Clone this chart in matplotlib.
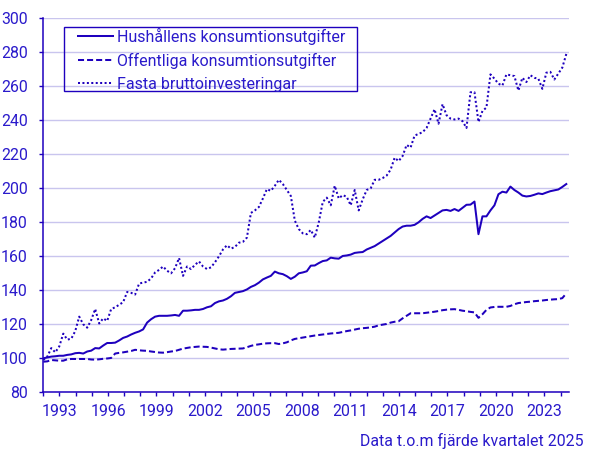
import matplotlib
matplotlib.use("Agg")
import matplotlib.pyplot as plt
from matplotlib.patches import Rectangle
import numpy as np

# Quarterly index values, 1993 Q1 .. 2025 Q4
hushall = [100, 100.5, 101, 101.2, 101.5, 101.5, 102, 102.3, 103, 103.2, 102.8, 104,
           104.5, 106, 105.8, 107.5, 109, 109, 109.2, 110.5, 112, 112.8, 114, 115,
           115.8, 117, 121, 123, 124.5, 125, 125, 125, 125.2, 125.5, 125, 128,
           128, 128.2, 128.5, 128.5, 129, 130, 130.6, 132.5, 133.5, 134, 135, 136.5,
           138.5, 139, 139.5, 140.5, 142, 143, 144.5, 146.4, 147.5, 148.5, 151, 150,
           149.5, 148.3, 146.7, 148, 150, 150.5, 151.2, 154.5, 154.6, 156, 157.2, 157.6,
           159.2, 158.8, 158.6, 160.2, 160.5, 161, 162, 162.3, 162.5, 164, 165, 166,
           167.5, 169, 170.5, 172, 174, 176, 177.5, 178, 178, 178.5, 180, 182,
           183.5, 182.5, 184, 185.5, 187, 187.3, 186.7, 187.8, 186.7, 188.5, 190.3, 190.4,
           192.2, 173, 183.5, 183.5, 187, 190, 196.5, 198, 197.5, 201, 199, 197.5,
           195.7, 195.2, 195.5, 196.2, 197, 196.6, 197.5, 198.3, 198.8, 199.3, 200.8, 202.5]

offentliga = [98, 98.2, 99, 98.8, 98.6, 98.6, 99.4, 99.6, 99.6, 99.6, 99.6, 99.6,
              99.3, 99.2, 99.4, 99.7, 99.9, 100.2, 102.8, 103.2, 103.5, 103.9, 104.3, 105,
              104.7, 104.5, 104.4, 104, 103.7, 103.4, 103.3, 103.6, 104, 104.3, 105, 105.7,
              106.1, 106.5, 106.7, 106.9, 106.8, 106.7, 106.3, 105.8, 105.3, 105.1, 105.3, 105.5,
              105.6, 105.7, 105.8, 106.5, 107.3, 107.9, 108.2, 108.6, 108.8, 108.9, 108.9, 108.4,
              108.8, 109.4, 110.5, 111.4, 111.8, 112.2, 112.6, 113, 113.4, 113.7, 114, 114.3,
              114.6, 114.8, 115, 115.5, 116, 116.4, 116.9, 117.4, 117.7, 117.9, 118.2, 118.6,
              119.4, 119.8, 120.2, 121, 121.5, 121.8, 123.5, 125, 126.5, 126.5, 126.5, 126.5,
              126.8, 127.1, 127.4, 127.8, 128.3, 128.6, 128.8, 128.9, 128.5, 128, 127.7, 127.3,
              127, 123.8, 125.9, 128.5, 129.9, 130.2, 130.3, 130.3, 130.3, 130.8, 131.8, 132.5,
              132.8, 133.1, 133.3, 133.6, 133.8, 134, 134.3, 134.5, 134.7, 134.8, 135.4, 138.2]

fasta = [99, 101, 106, 103.5, 107, 114.5, 111, 111.5, 116, 124.5, 120, 118,
         122.5, 129, 120.5, 123.5, 122, 129, 130, 131.5, 133, 139, 138.5, 137.5,
         144, 144.5, 145, 147, 150.5, 152, 154, 151.5, 150, 153, 159, 148.5,
         154, 152.5, 155, 157, 154, 152.5, 153.5, 156.5, 160, 164, 166.5, 164.5,
         165.5, 168, 168.5, 171, 185.5, 187, 189, 194, 199.5, 198.5, 201.5, 205,
         202.5, 199, 195.5, 181, 176, 173.5, 173, 175.5, 171, 180, 192, 194.5,
         190, 201.5, 194, 196, 195, 190, 199, 187, 193.5, 199, 200, 205,
         205, 206, 207.5, 211, 218, 216, 219, 225.5, 224, 231, 232, 233,
         235.5, 241, 246.5, 238, 249.5, 243, 241, 240.5, 241, 239.5, 235.5, 256.5,
         256.5, 239, 245.5, 247.5, 267, 264.5, 261.5, 260.5, 267, 266.5, 266, 257.5,
         265, 262.5, 266.5, 265, 264.5, 258.5, 268, 268.5, 264, 267.5, 271, 279]

series_names = ["Hushållens konsumtionsutgifter",
                "Offentliga konsumtionsutgifter",
                "Fasta bruttoinvesteringar"]
year_labels = [str(y) for y in range(1993, 2024, 3)]
footnote = "Data t.o.m fjärde kvartalet 2025"

LINE = "#1E00BE"
TEXT = "#2A1ACB"
GRID = "#C9C5EE"

plt.rcParams['font.family'] = ['Roboto', 'DejaVu Sans']

fig = plt.figure(figsize=(5.92, 4.54), dpi=100)
ax = fig.add_axes([43.3 / 592, (454 - 392.3) / 454, 525.4 / 592, 374.0 / 454])

# fit legend font size to the measured label width (228 px)
renderer = fig.canvas.get_renderer()
probe = fig.text(0, 0, series_names[0], fontsize=10)
w10 = probe.get_window_extent(renderer).width
probe.remove()
leg_fs = 10 * 228.0 / w10

x = np.arange(len(hushall))
lw = 1.45
ax.plot(x, hushall, color=LINE, lw=lw, solid_joinstyle='round', label=series_names[0])
ax.plot(x, offentliga, color=LINE, lw=lw, linestyle=(0, (3, 1.5)), label=series_names[1])
ax.plot(x, fasta, color=LINE, lw=lw, linestyle=(0, (1, 1.2)), label=series_names[2])

n = len(hushall)
xmax = (n - 1) * 525.4 / 523.0
ax.set_xlim(0, xmax)
ax.set_ylim(80, 300)

step = xmax / 32.5
ticks = [k * step for k in range(33)]
ax.set_xticks(ticks)
labels = []
for k in range(33):
    if k % 3 == 1 and (k - 1) // 3 < len(year_labels):
        labels.append(year_labels[(k - 1) // 3])
    else:
        labels.append("")
ax.set_xticklabels(labels)
ax.set_yticks(range(80, 301, 20))

ax.grid(axis='y', color=GRID, lw=1.0)
ax.set_axisbelow(True)
for s in ['top', 'right']:
    ax.spines[s].set_visible(False)
for s in ['left', 'bottom']:
    ax.spines[s].set_color(LINE)
    ax.spines[s].set_linewidth(1.1)
ax.tick_params(axis='both', colors=LINE, labelcolor=TEXT, labelsize=11.4,
               length=3.2, width=1.0)
ax.tick_params(axis='y', pad=8)
ax.tick_params(axis='x', pad=5)

leg = ax.legend(loc='upper left', bbox_to_anchor=((78.3 - 43.3) / 525.4, (392.3 - 28.0) / 374.0),
                frameon=False, fontsize=leg_fs, handlelength=35.0 / (leg_fs * 100 / 72),
                handletextpad=4.0 / (leg_fs * 100 / 72),
                labelspacing=0.5, borderpad=0, borderaxespad=0, labelcolor=TEXT)
ax.add_patch(Rectangle(((64.3 - 43.3) / 525.4, (392.3 - 90.7) / 374.0),
                       (356.7 - 64.3) / 525.4, (90.7 - 26.7) / 374.0,
                       transform=ax.transAxes, fill=False, edgecolor=LINE, lw=1.0,
                       zorder=5, clip_on=False))

fig.text(584 / 592, (454 - 445.7) / 454, footnote, ha='right', va='baseline',
         color=TEXT, fontsize=11.4)

fig.savefig("out.png", dpi=100)
